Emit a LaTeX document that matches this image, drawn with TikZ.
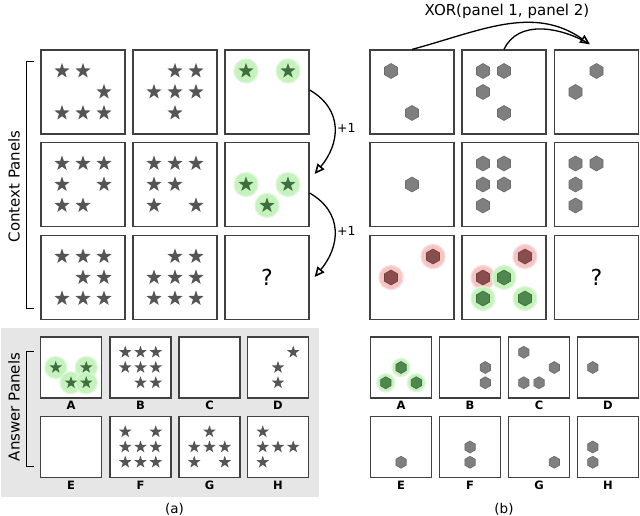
\documentclass[tikz,border=0pt]{standalone}
\usepackage{fontspec}
\setmainfont{DejaVu Sans}
\usetikzlibrary{positioning,arrows.meta,shapes.geometric}
\definecolor{panelline}{HTML}{404040}
\definecolor{stargray}{HTML}{555555}
\definecolor{hexgray}{HTML}{7F7F7F}
\definecolor{hexedge}{HTML}{6A6A6A}
\definecolor{glowgreen}{HTML}{C6F2BE}
\definecolor{glowrim}{HTML}{DDF8D8}
\definecolor{stargreen}{HTML}{3F6F3F}
\definecolor{hexgreen}{HTML}{4F874F}
\definecolor{hexgreenedge}{HTML}{3E6E3E}
\definecolor{glowred}{HTML}{F7C4C4}
\definecolor{glowredrim}{HTML}{FBDADA}
\definecolor{hexred}{HTML}{8A4D4D}
\definecolor{hexrededge}{HTML}{704040}
\definecolor{ansback}{HTML}{E6E6E6}
\tikzset{
  flowarrow/.style={-{Triangle[open, length=10pt, width=9pt, line width=1.6pt]}, line width=1.3pt},
  panel/.style={draw=panelline, line width=1.2pt, fill=white, minimum size=84pt, inner sep=0pt, font=\fontsize{22}{26}\selectfont},
  anspanel/.style={panel, minimum size=61pt},
  starmark/.style={star, star points=5, star point ratio=2.5, fill=stargray, minimum size=16pt, inner sep=0pt},
  smallstar/.style={starmark, minimum size=13pt},
  hexmark/.style={regular polygon, regular polygon sides=6, shape border rotate=30, fill=hexgray, draw=hexedge, line width=0.6pt, minimum size=15pt, inner sep=0pt},
  smallhex/.style={hexmark, minimum size=12pt},
  glowg/.style={circle, fill=glowgreen, draw=glowrim, line width=1.2pt, minimum size=24pt, inner sep=0pt},
  glowr/.style={glowg, fill=glowred, draw=glowredrim},
  anslabel/.style={font=\fontsize{11.5}{13}\selectfont\bfseries, inner sep=1.5pt},
  bracket/.style={line width=1.4pt},
  sidetitle/.style={rotate=90, font=\fontsize{15}{18}\selectfont}
}

\begin{document}
\begin{tikzpicture}[x=1pt, y=1pt, >=Latex]
  \useasboundingbox (0,0) rectangle (640,-516);
  % answer area of (a)
  \fill[ansback] (1,-328) rectangle (319,-497);

  % context panels
  \foreach \pn/\px/\py in {a11/83/-92, a12/175/-92, a13/267/-92,
      a21/83/-184.5, a22/175/-184.5, a23/267/-184.5,
      a31/83/-277.5, a32/175/-277.5,
      b11/412/-92, b12/504/-92, b13/596.5/-92,
      b21/412/-184.5, b22/504/-184.5, b23/596.5/-184.5,
      b31/412/-277.5, b32/504/-277.5}
    \node[panel] (\pn) at (\px,\py) {};
  \node[panel] (a33) at (267,-277.5) {?};
  \node[panel] (b33) at (596.5,-277.5) {?};

  % answer panels
  \foreach \pn/\px/\py in {aA/71/-367.5, aB/140.5/-367.5, aC/209.5/-367.5, aD/278/-367.5,
      aE/71/-447, aF/140.5/-447, aG/209.5/-447, aH/278/-447,
      bA/401/-367.5, bB/470/-367.5, bC/539/-367.5, bD/608/-367.5,
      bE/401/-447, bF/470/-447, bG/539/-447, bH/608/-447}
    \node[anspanel] (\pn) at (\px,\py) {};
  \foreach \k in {A,...,H} {
    \node[anslabel, below=1pt of a\k] (a\k-lab) {\k};
    \node[anslabel, below=1pt of b\k] (b\k-lab) {\k};
  }

  % stars
  \foreach \pn/\cells in {a11/{1/1,2/1,3/2,1/3,2/3,3/3}, a12/{2/1,3/1,1/2,2/2,3/2,2/3},
      a21/{1/1,2/1,3/1,1/2,3/2,1/3,2/3}, a22/{1/1,2/1,3/1,1/2,2/2,1/3,3/3},
      a31/{1/1,2/1,3/1,2/2,3/2,1/3,2/3,3/3}, a32/{2/1,3/1,1/2,2/2,3/2,1/3,2/3,3/3}}
    \foreach \c/\r in \cells
      \node[starmark] (\pn-\c\r) at ([shift={(21*\c-42,42-21*\r)}]\pn.center) {};
  \foreach \pn/\cells in {aB/{1/1,2/1,3/1,1/2,2/2,3/2,2/3,3/3}, aD/{3/1,2/2,2/3},
      aF/{1/1,3/1,1/2,2/2,3/2,1/3,2/3,3/3}, aG/{2/1,1/2,2/2,3/2,1/3,3/3},
      aH/{1/1,1/2,2/2,3/2,1/3}}
    \foreach \c/\r in \cells
      \node[smallstar] (\pn-\c\r) at ([shift={(15.25*\c-30.5,30.5-15.25*\r)}]\pn.center) {};
  \foreach \pn/\c/\r in {a13/1/1, a13/3/1, a23/1/2, a23/3/2, a23/2/3}
    \node[glowg] (\pn-g\c\r) at ([shift={(21*\c-42,42-21*\r)}]\pn.center) {};
  \foreach \pn/\c/\r in {a13/1/1, a13/3/1, a23/1/2, a23/3/2, a23/2/3}
    \node[starmark, fill=stargreen] (\pn-\c\r) at (\pn-g\c\r) {};
  \foreach \c/\r in {1/2, 3/2, 2/3, 3/3}
    \node[glowg, minimum size=22pt] (aA-g\c\r) at ([shift={(15.25*\c-30.5,30.5-15.25*\r)}]aA.center) {};
  \foreach \c/\r in {1/2, 3/2, 2/3, 3/3}
    \node[smallstar, fill=stargreen] (aA-\c\r) at (aA-g\c\r) {};

  % hexagons
  \foreach \pn/\cells in {b11/{1/1,2/3}, b12/{1/1,2/1,1/2,2/3}, b13/{2/1,1/2},
      b21/{2/2}, b22/{1/1,2/1,1/2,2/2,1/3}, b23/{1/1,2/1,1/2,1/3}}
    \foreach \c/\r in \cells
      \node[hexmark] (\pn-\c\r) at ([shift={(21*\c-42,42-21*\r)}]\pn.center) {};
  \foreach \pn/\cells in {bB/{3/2,3/3}, bC/{1/1,3/2,1/3,2/3}, bD/{1/2},
      bE/{2/3}, bF/{2/2,2/3}, bG/{3/3}, bH/{1/2,1/3}}
    \foreach \c/\r in \cells
      \node[smallhex] (\pn-\c\r) at ([shift={(15.25*\c-30.5,30.5-15.25*\r)}]\pn.center) {};
  \foreach \pn/\c/\r in {b31/1/2, b31/3/1, b32/1/2, b32/3/1}
    \node[glowr] (\pn-g\c\r) at ([shift={(21*\c-42,42-21*\r)}]\pn.center) {};
  \foreach \c/\r in {2/2, 1/3, 3/3}
    \node[glowg] (b32-g\c\r) at ([shift={(21*\c-42,42-21*\r)}]b32.center) {};
  \foreach \pn/\c/\r in {b31/1/2, b31/3/1, b32/1/2, b32/3/1}
    \node[hexmark, fill=hexred, draw=hexrededge] (\pn-\c\r) at (\pn-g\c\r) {};
  \foreach \c/\r in {2/2, 1/3, 3/3}
    \node[hexmark, fill=hexgreen, draw=hexgreenedge] (b32-\c\r) at (b32-g\c\r) {};
  \foreach \c/\r in {2/2, 1/3, 3/3}
    \node[glowg, minimum size=18pt] (bA-g\c\r) at ([shift={(15.25*\c-30.5,30.5-15.25*\r)}]bA.center) {};
  \foreach \c/\r in {2/2, 1/3, 3/3}
    \node[smallhex, fill=hexgreen, draw=hexgreenedge] (bA-\c\r) at (bA-g\c\r) {};

  % rule arrows
  \draw[flowarrow] ([yshift=2pt]a13.east) to[out=-30, in=50, looseness=1.2]
    node[right, font=\fontsize{12.5}{14}\selectfont, inner sep=2pt] (inc1) {+1} ([xshift=5pt,yshift=10.5pt]a23.east);
  \draw[flowarrow] ([yshift=-8.5pt]a23.east) to[out=-30, in=50, looseness=1.2]
    node[right, font=\fontsize{12.5}{14}\selectfont, inner sep=2pt] (inc2) {+1} ([xshift=5pt,yshift=0.5pt]a33.east);
  \draw[flowarrow] (b11.north) to[out=15, in=145] ([xshift=-6.5pt,yshift=5pt]b13.north);
  \draw[line width=1.3pt] (b12.north) to[out=65, in=150] ([xshift=-8pt,yshift=6pt]b13.north);
  \node[font=\fontsize{15}{18}\selectfont] (xorlabel) at (507,-11) {XOR(panel 1, panel 2)};

  % brackets and titles
  \draw[bracket] (33.5,-61.7) -- (26.7,-61.7) -- (26.7,-308.3) -- (33.5,-308.3);
  \draw[bracket] (33.5,-351.7) -- (26.7,-351.7) -- (26.7,-466.7) -- (33.5,-466.7);
  \node[sidetitle] (ctxtitle) at (14,-186.5) {Context Panels};
  \node[sidetitle] (anstitle) at (14,-407) {Answer Panels};
  \node[font=\fontsize{13.5}{16}\selectfont] (capa) at (174.5,-509.5) {(a)};
  \node[font=\fontsize{13.5}{16}\selectfont] (capb) at (504,-509.5) {(b)};
\end{tikzpicture}
\end{document}
